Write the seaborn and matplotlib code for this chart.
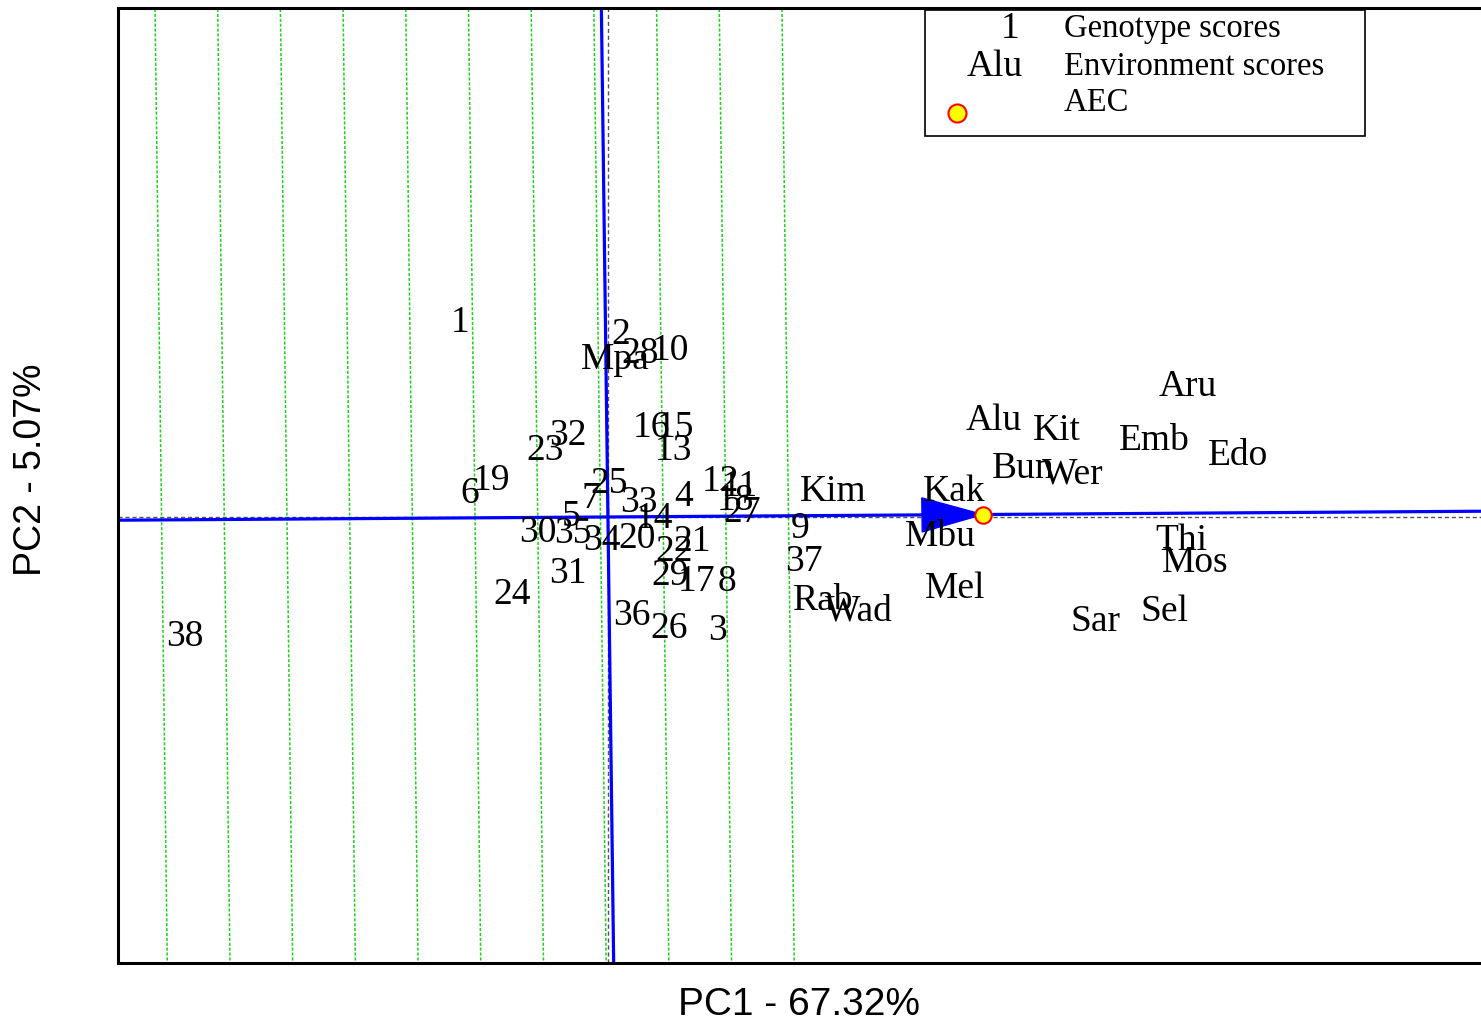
import numpy as np
import matplotlib
matplotlib.use("Agg")
import matplotlib.pyplot as plt
import seaborn as sns
from matplotlib.patches import Rectangle, Polygon
from matplotlib.lines import Line2D
from matplotlib.transforms import offset_copy

# ---------------- data ----------------
genotype_labels = [str(i) for i in range(1, 39)]
genotype_pc1 = [-2.36, 0.21, 1.74, 1.21, -0.59, -2.20, -0.27, 1.90, 3.06, 0.99,
                2.11, 1.79, 1.05, 0.75, 1.08, 0.69, 1.42, 2.04, -1.85, 0.46,
                1.34, 1.05, -1.00, -1.53, 0.02, 0.97, 2.14, 0.51, 0.99, -1.12,
                -0.64, -0.64, 0.49, -0.10, -0.56, 0.38, 3.13, -6.75]
genotype_pc2 = [4.42, 4.15, -2.46, 0.54, 0.09, 0.60, 0.49, -1.36, -0.18, 3.79,
                0.76, 0.87, 1.56, 0.04, 2.08, 2.08, -1.36, 0.45, 0.89, -0.40,
                -0.47, -0.69, 1.56, -1.65, 0.83, -2.41, 0.18, 3.73, -1.23, -0.27,
                -1.18, 1.90, 0.40, -0.45, -0.29, -2.12, -0.92, -2.59]

env_labels = ["Alu", "Aru", "Bun", "Edo", "Emb", "Kak", "Kim", "Kit", "Mbu",
              "Mel", "Mos", "Mpa", "Rab", "Sar", "Sel", "Thi", "Wad", "Wer"]
env_pc1 = [6.16, 9.25, 6.62, 10.05, 8.72, 5.53, 3.59, 7.16, 5.30,
           5.53, 9.36, 0.11, 3.44, 7.78, 8.88, 9.14, 4.00, 7.42]
env_pc2 = [2.23, 2.99, 1.16, 1.45, 1.79, 0.65, 0.65, 2.01, -0.36,
           -1.52, -0.94, 3.59, -1.79, -2.25, -2.03, -0.45, -2.03, 1.03]

aec_pc1 = [5.98]
aec_pc2 = [0.055]

# positions (along the AEC abscissa) of the green ranking lines
ranking_positions = [-7.12, -6.12, -5.12, -4.12, -3.12, -2.12, -1.12, -0.12, 0.88, 1.88, 2.88]

x_label = "PC1 - 67.32%"
y_label = "PC2 - 5.07%"
legend_items = ["Genotype scores", "Environment scores", "AEC"]

# ---------------- figure ----------------
sns.set_theme(style="white")
plt.rcParams['font.family'] = ['Liberation Serif', 'DejaVu Serif']
plt.rcParams['text.color'] = 'black'

W, H = 1481, 1023
fig = plt.figure(figsize=(W / 100, H / 100), dpi=100)
ax = fig.add_axes([118 / W, 1 - 963 / H, (1490 - 118) / W, (963 - 8) / H])
ax.set_xlim(-7.815, 14.07)
ax.set_ylim(-9.955, 11.36)
ax.set_xticks([])
ax.set_yticks([])
for s in ax.spines.values():
    s.set_color("black")
    s.set_linewidth(2.2)

aec = np.array([aec_pc1[0], aec_pc2[0]])
u = aec / np.linalg.norm(aec)
p = np.array([-u[1], u[0]])
big = 40

# green ranking lines (perpendicular to AEC axis)
for t in ranking_positions:
    c = t * u
    ax.plot([c[0] - big * p[0], c[0] + big * p[0]],
            [c[1] - big * p[1], c[1] + big * p[1]],
            color="#22cc22", lw=1.1, ls=(0, (2, 1.2)), zorder=1)

# origin axes (dashed gray)
ax.axhline(0, color="#555555", lw=1.0, ls=(0, (3, 2)), zorder=1)
ax.axvline(0, color="#555555", lw=1.0, ls=(0, (3, 2)), zorder=1)

# AEC abscissa and ordinate
ax.plot([-big * u[0], big * u[0]], [-big * u[1], big * u[1]], color="#0000ff", lw=2.3, zorder=2)
ax.plot([-big * p[0], big * p[0]], [-big * p[1], big * p[1]], color="#0000ff", lw=2.3, zorder=2)

# arrow head toward AEC
L, hw = 0.97, 0.38
base = aec - L * u
tri = Polygon([aec, base + hw * p, base - hw * p], closed=True,
              facecolor="#0000ff", edgecolor="#0000ff", zorder=3)
ax.add_patch(tri)

# AEC point
sns.scatterplot(x=aec_pc1, y=aec_pc2, s=140, color="yellow", edgecolor="red",
                linewidth=1.5, ax=ax, zorder=5, legend=False)

# labels (small downward offset so glyph centres sit on the score)
ttr = offset_copy(ax.transData, fig=fig, x=0, y=-3.5, units="dots")
for lab, x, y in zip(genotype_labels, genotype_pc1, genotype_pc2):
    ax.text(x, y, lab, ha="center", va="center", fontsize=27, color="black",
            zorder=4, transform=ttr)
for lab, x, y in zip(env_labels, env_pc1, env_pc2):
    ax.text(x, y, lab, ha="center", va="center", fontsize=27, color="black",
            zorder=4, transform=ttr)

# axis labels
sans = ['Liberation Sans', 'DejaVu Sans']
fig.text(799 / W, 1 - 1005 / H, x_label, ha="center", va="center",
         fontsize=28, family=sans, color="black")
fig.text(31 / W, 1 - 470 / H, y_label, ha="center", va="center", rotation=90,
         fontsize=27, family=sans, color="black")

# legend box
tf = fig.transFigure
fig.add_artist(Rectangle((925 / W, 1 - 136 / H), 440 / W, 126 / H, transform=tf,
                         facecolor="white", edgecolor="black", lw=1.2, zorder=10))
fig.text(1010 / W, 1 - 29 / H, "1", ha="center", va="center", fontsize=27, zorder=11)
fig.text(995 / W, 1 - 67 / H, env_labels[0], ha="center", va="center", fontsize=27, zorder=11)
fig.text(1064 / W, 1 - 29 / H, legend_items[0], ha="left", va="center", fontsize=23.5, zorder=11)
fig.text(1064 / W, 1 - 67 / H, legend_items[1], ha="left", va="center", fontsize=23.5, zorder=11)
fig.text(1064 / W, 1 - 103 / H, legend_items[2], ha="left", va="center", fontsize=23.5, zorder=11)
fig.add_artist(Line2D([957 / W], [1 - 113 / H], transform=tf, marker="o", ms=13,
                      markerfacecolor="yellow", markeredgecolor="red", mew=1.5,
                      ls="none", zorder=11))

fig.savefig("out.png", dpi=100)
